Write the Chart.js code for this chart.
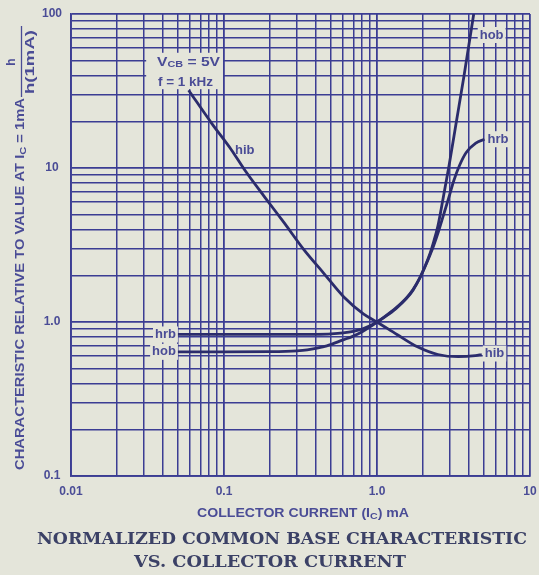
<!DOCTYPE html>
<html>
<head>
<meta charset="utf-8">
<title>Normalized common base characteristic vs. collector current</title>
<script src="https://cdn.jsdelivr.net/npm/chart.js@4/dist/chart.umd.min.js"></script>
<style>
  html, body { margin: 0; padding: 0; background: #e4e5da; }
  #wrap { position: relative; width: 539px; height: 575px; }
  canvas { display: block; }
</style>
</head>
<body>
<div id="wrap"><canvas id="chart" width="539" height="575"></canvas></div>
<script>
// Collector current in mA, and each h-parameter relative to its value at Ic = 1 mA
const hibCurrent = [0.0587, 0.0831, 0.1119, 0.1366, 0.1839, 0.2476, 0.3336, 0.4491, 0.6047, 0.8144, 1.0, 1.35, 1.837, 2.5, 3.4, 4.4, 4.84];
const hibRatio   = [32, 19.5, 13.1, 9.7, 6.5, 4.4, 2.94, 2.07, 1.46, 1.13, 1.0, 0.83, 0.69, 0.615, 0.595, 0.605, 0.615];

const hrbCurrent = [0.05, 0.1, 0.2, 0.3, 0.4, 0.5, 0.6, 0.7, 0.8, 0.9, 1.0, 1.14, 1.33, 1.551, 1.72, 1.904, 2.056, 2.221, 2.351, 2.519, 2.7, 2.939, 3.175, 3.455, 3.819, 4.422, 5.039];
const hrbRatio   = [0.83, 0.83, 0.83, 0.83, 0.832, 0.838, 0.85, 0.87, 0.9, 0.945, 1.0, 1.089, 1.222, 1.413, 1.611, 1.925, 2.277, 2.723, 3.153, 3.858, 4.829, 6.367, 8.272, 10.35, 12.57, 14.49, 15.38];

const hobCurrent = [0.05, 0.1, 0.2, 0.3, 0.35, 0.47, 0.6, 0.7, 0.8, 0.9, 1.0, 1.14, 1.33, 1.551, 1.72, 1.904, 2.056, 2.221, 2.34, 2.5, 2.7, 2.962, 3.299, 3.703, 4.287];
const hobRatio   = [0.64, 0.64, 0.642, 0.65, 0.66, 0.70, 0.765, 0.81, 0.865, 0.93, 1.0, 1.095, 1.235, 1.428, 1.628, 1.936, 2.283, 2.784, 3.292, 4.201, 6.291, 10.46, 19.89, 39.57, 100];

const xTickValues = [0.01, 0.1, 1, 10];
const xTickLabels = ['0.01', '0.1', '1.0', '10'];
const yTickValues = [0.1, 1, 10, 100];
const yTickLabels = ['0.1', '1.0', '10', '100'];

// ---- styling ----
const PAPER = '#e4e5da';
const INK   = '#3b3d93';
const CURVE = '#2b2c6c';
const TEXT  = '#4a4c96';
const TITLE = '#3b4166';
const SANS  = '"Liberation Sans", Arial, sans-serif';
const SERIF = '"DejaVu Serif", "Liberation Serif", serif';

const toPoints = (xs, ys) => xs.map((x, i) => ({ x, y: ys[i] }));

// log grid: 1..9 in every decade between lo and hi
function decadeGrid(lo, hi) {
  const out = [];
  for (let e = Math.round(Math.log10(lo)); e < Math.round(Math.log10(hi)); e++) {
    for (let m = 1; m <= 9; m++) out.push(+(m * Math.pow(10, e)).toPrecision(3));
  }
  out.push(hi);
  return out;
}
const isDecade = v => Math.abs(Math.log10(v) - Math.round(Math.log10(v))) < 1e-6;
function labelFor(values, labels, v) {
  const i = values.findIndex(t => Math.abs(Math.log10(t) - Math.log10(v)) < 1e-6);
  return i >= 0 ? labels[i] : '';
}

// text made of runs (for subscripts), squeezed to a given width
function drawRuns(ctx, runs, x0, width, y) {
  let w = 0;
  runs.forEach(r => { ctx.font = r.font; r.w = ctx.measureText(r.text).width; w += r.w; });
  const sx = width ? width / w : 1;
  ctx.save();
  ctx.translate(x0, y);
  ctx.scale(sx, 1);
  ctx.textAlign = 'left';
  ctx.textBaseline = 'middle';
  let x = 0;
  runs.forEach(r => { ctx.font = r.font; ctx.fillText(r.text, x, r.dy || 0); x += r.w; });
  ctx.restore();
}

const F = (s, w = 'bold') => `${w} ${s}px ${SANS}`;

// curve labels, placed next to the ends of each curve
const curveLabels = [
  { text: 'hrb', ds: 1, end: 'start', dx: -2, dy: 0 },
  { text: 'hob', ds: 2, end: 'start', dx: -2, dy: 0 },
  { text: 'hrb', ds: 1, end: 'end',   dx: 3,  dy: 0 },
  { text: 'hib', ds: 0, end: 'end',   dx: 3,  dy: -1 },
  { text: 'hob', ds: 2, end: 'end',   dx: 6,  dy: 21 },
  { text: 'hib', ds: 0, at: { x: 0.118, y: 13.1 }, dx: 0, dy: 0, noBg: true }
];

function labelBox(chart, lab) {
  const ctx = chart.ctx;
  ctx.font = F(13);
  const w = ctx.measureText(lab.text).width;
  let px, py, align;
  if (lab.at) {
    px = chart.scales.x.getPixelForValue(lab.at.x);
    py = chart.scales.y.getPixelForValue(lab.at.y);
    align = 'left';
  } else {
    const meta = chart.getDatasetMeta(lab.ds);
    const pt = lab.end === 'start' ? meta.data[0] : meta.data[meta.data.length - 1];
    px = pt.x; py = pt.y;
    align = lab.end === 'start' ? 'right' : 'left';
  }
  px += lab.dx; py += lab.dy;
  const left = align === 'right' ? px - w : px;
  return { left, top: py - 7, w, h: 14, px, py, align };
}

const annotate = {
  id: 'annotate',
  beforeDraw(chart) {
    const ctx = chart.ctx;
    ctx.save();
    ctx.fillStyle = PAPER;
    ctx.fillRect(0, 0, chart.width, chart.height);
    ctx.restore();
  },
  beforeDatasetsDraw(chart) {
    const ctx = chart.ctx;
    const { x, y } = chart.scales;
    ctx.save();
    ctx.fillStyle = PAPER;
    // clear panel behind the test conditions
    const bx0 = x.getPixelForValue(0.031), bx1 = x.getPixelForValue(0.1) - 1;
    const by0 = y.getPixelForValue(56), by1 = y.getPixelForValue(32.5);
    ctx.fillRect(bx0, by0, bx1 - bx0, by1 - by0);
    curveLabels.forEach(l => {
      if (l.noBg) return;
      const b = labelBox(chart, l);
      ctx.fillRect(b.left - 2, b.top - 1, b.w + 4, b.h + 2);
    });
    ctx.restore();
  },
  afterDatasetsDraw(chart) {
    const ctx = chart.ctx;
    const { x, y } = chart.scales;
    ctx.save();
    ctx.fillStyle = TEXT;
    ctx.textBaseline = 'middle';
    curveLabels.forEach(l => {
      const b = labelBox(chart, l);
      ctx.font = F(13);
      ctx.textAlign = b.align;
      ctx.fillText(l.text, b.px, b.py);
    });
    // test conditions
    const cx0 = x.getPixelForValue(0.0365);
    drawRuns(ctx, [
      { text: 'V', font: F(13) },
      { text: 'CB', font: F(9), dy: 3 },
      { text: ' = 5V', font: F(13) }
    ], cx0, 63, y.getPixelForValue(48.8));
    drawRuns(ctx, [{ text: 'f = 1 kHz', font: F(13) }], cx0 + 1, 55, y.getPixelForValue(36.2));
    ctx.restore();
  },
  afterDraw(chart) {
    const ctx = chart.ctx;
    ctx.save();
    ctx.fillStyle = TEXT;
    ctx.strokeStyle = TEXT;
    // vertical axis title with the h / h(1mA) fraction
    ctx.translate(21, 470);
    ctx.rotate(-Math.PI / 2);
    drawRuns(ctx, [
      { text: 'CHARACTERISTIC RELATIVE TO VALUE AT I', font: F(12) },
      { text: 'C', font: F(9), dy: 3 },
      { text: ' = 1mA', font: F(12) }
    ], 0, 372, 0);
    ctx.font = F(12);
    ctx.textAlign = 'center';
    ctx.textBaseline = 'middle';
    ctx.fillText('h', 408, -9);
    drawRuns(ctx, [{ text: 'h(1mA)', font: F(12) }], 376, 64, 10);
    ctx.lineWidth = 1.3;
    ctx.beginPath();
    ctx.moveTo(373, 0.5);
    ctx.lineTo(444, 0.5);
    ctx.stroke();
    ctx.restore();

    ctx.save();
    ctx.fillStyle = TEXT;
    drawRuns(ctx, [
      { text: 'COLLECTOR CURRENT (I', font: F(12) },
      { text: 'C', font: F(9), dy: 3 },
      { text: ') mA', font: F(12) }
    ], 197, 212, 514);
    ctx.fillStyle = TITLE;
    drawRuns(ctx, [{ text: 'NORMALIZED COMMON BASE CHARACTERISTIC', font: `bold 16px ${SERIF}` }], 37, 490, 540);
    drawRuns(ctx, [{ text: 'VS. COLLECTOR CURRENT', font: `bold 16px ${SERIF}` }], 134, 272, 563);
    ctx.restore();
  }
};

const curve = (label, xs, ys) => ({
  label,
  data: toPoints(xs, ys),
  borderColor: CURVE,
  borderWidth: 2.8,
  pointRadius: 0,
  fill: false,
  cubicInterpolationMode: 'monotone'
});

const gridWidth = c => (c.tick && isDecade(c.tick.value) ? 1.8 : 1.5);

new Chart(document.getElementById('chart'), {
  type: 'line',
  data: {
    datasets: [
      curve('hib', hibCurrent, hibRatio),
      curve('hrb', hrbCurrent, hrbRatio),
      curve('hob', hobCurrent, hobRatio)
    ]
  },
  options: {
    responsive: false,
    animation: false,
    events: [],
    layout: { padding: { top: 14, right: 9, bottom: 0, left: 0 } },
    plugins: { legend: { display: false }, tooltip: { enabled: false } },
    scales: {
      x: {
        type: 'logarithmic',
        min: 0.01,
        max: 10,
        afterBuildTicks: s => { s.ticks = decadeGrid(0.01, 10).map(v => ({ value: v })); },
        afterFit: s => { s.height = 99; s.paddingLeft = 0; s.paddingRight = 0; },
        grid: { drawTicks: false, color: INK, lineWidth: gridWidth },
        border: { display: true, color: INK, width: 1.8 },
        ticks: {
          autoSkip: false,
          maxRotation: 0,
          padding: 8,
          color: TEXT,
          font: { family: SANS, size: 12, weight: 'bold' },
          callback: v => labelFor(xTickValues, xTickLabels, v)
        }
      },
      y: {
        type: 'logarithmic',
        min: 0.1,
        max: 100,
        afterBuildTicks: s => { s.ticks = decadeGrid(0.1, 100).map(v => ({ value: v })); },
        afterFit: s => { s.width = 71; s.paddingTop = 0; s.paddingBottom = 0; },
        grid: { drawTicks: false, color: INK, lineWidth: gridWidth },
        border: { display: true, color: INK, width: 1.8 },
        ticks: {
          autoSkip: false,
          crossAlign: 'center',
          padding: 9,
          color: TEXT,
          font: { family: SANS, size: 12, weight: 'bold' },
          callback: v => labelFor(yTickValues, yTickLabels, v)
        }
      }
    }
  },
  plugins: [annotate]
});
</script>
</body>
</html>
